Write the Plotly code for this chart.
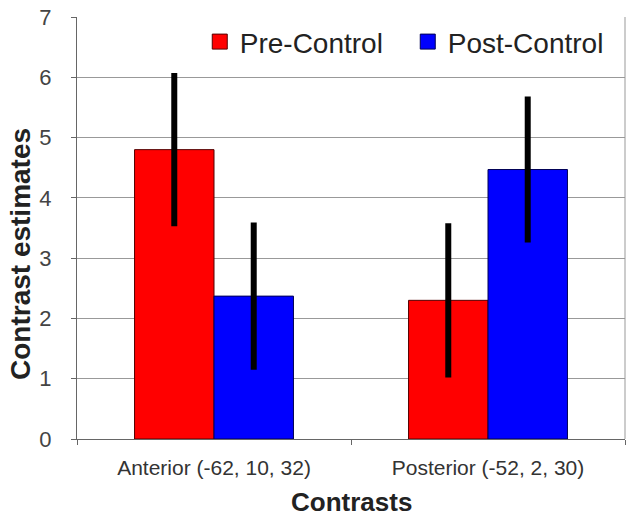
import plotly.graph_objects as go

categories = ["Anterior (-62, 10, 32)", "Posterior (-52, 2, 30)"]
pre_values = [4.80, 2.30]
pre_errors = [1.27, 1.28]
post_values = [2.37, 4.47]
post_errors = [1.22, 1.21]
y_ticks = [0, 1, 2, 3, 4, 5, 6, 7]

PRE_COLOR = "#FF0000"
POST_COLOR = "#0000FF"

fig = go.Figure()
fig.add_trace(go.Bar(
    name="Pre-Control", x=categories, y=pre_values, showlegend=False,
    marker=dict(color=PRE_COLOR, line=dict(color="#550000", width=1)),
    error_y=dict(type="data", array=pre_errors, visible=True, color="black", thickness=6, width=0),
))
fig.add_trace(go.Bar(
    name="Post-Control", x=categories, y=post_values, showlegend=False,
    marker=dict(color=POST_COLOR, line=dict(color="#000055", width=1)),
    error_y=dict(type="data", array=post_errors, visible=True, color="black", thickness=6, width=0),
))
# legend entries with larger square swatches
fig.add_trace(go.Scatter(
    name="Pre-Control", x=[None], y=[None], mode="markers",
    marker=dict(symbol="square", size=15, color=PRE_COLOR, line=dict(color="#550000", width=1)),
))
fig.add_trace(go.Scatter(
    name="Post-Control", x=[None], y=[None], mode="markers",
    marker=dict(symbol="square", size=15, color=POST_COLOR, line=dict(color="#000055", width=1)),
))

fig.update_layout(
    width=628, height=518,
    margin=dict(l=77, r=3, t=17, b=79, autoexpand=False),
    paper_bgcolor="white", plot_bgcolor="white",
    barmode="group", bargap=0.42, bargroupgap=0,
    font=dict(family="Liberation Sans, Arial, sans-serif", color="#333333"),
    showlegend=True,
    legend=dict(
        orientation="h", x=0.224, y=0.941, xanchor="left", yanchor="middle",
        font=dict(size=28, color="#222222"), bgcolor="rgba(0,0,0,0)",
        entrywidth=163, entrywidthmode="pixels", itemclick=False,
    ),
    xaxis=dict(
        automargin=False,
        tickfont=dict(size=21, color="#333333"),
        showline=True, linecolor="#666666", linewidth=1,
        ticks="outside", ticklen=5, tickcolor="#666666",
        tickson="boundaries", ticklabelstandoff=10,
    ),
    yaxis=dict(
        automargin=False,
        range=[0, 7], tickvals=y_ticks,
        tickfont=dict(size=22, color="#444444"),
        showline=True, linecolor="#666666", linewidth=1,
        ticks="outside", ticklen=5, tickcolor="#666666",
        ticklabelstandoff=15,
        showgrid=True, gridcolor="#999999", gridwidth=1,
        zeroline=False,
    ),
    annotations=[
        dict(text="<b>Contrast estimates</b>", xref="paper", yref="paper",
             x=0, y=0.5, xshift=-57, yshift=-26, textangle=-90, showarrow=False,
             font=dict(size=28, color="#222222"), xanchor="center", yanchor="middle"),
        dict(text="<b>Contrasts</b>", xref="paper", yref="paper",
             x=0.5, y=0, yshift=-63, showarrow=False,
             font=dict(size=26, color="#222222"), xanchor="center", yanchor="middle"),
    ],
)
fig.add_shape(type="line", xref="paper", yref="paper", x0=1, x1=1, y0=0, y1=1,
              line=dict(color="#999999", width=1))
fig.write_html("out.html", config={"displayModeBar": False},
               post_script="document.body.style.margin='0';")
